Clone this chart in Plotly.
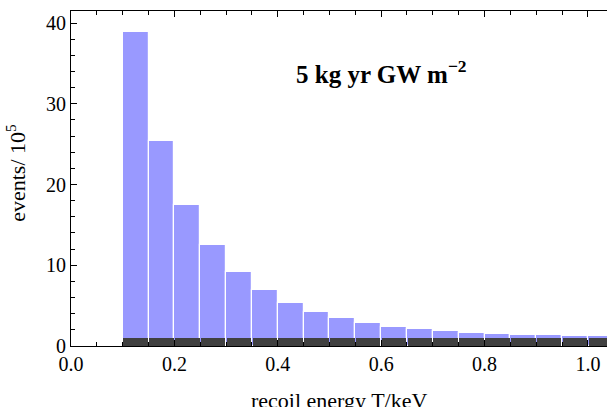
import plotly.graph_objects as go

bin_left = [0.10, 0.15, 0.20, 0.25, 0.30, 0.35, 0.40, 0.45, 0.50, 0.55,
            0.60, 0.65, 0.70, 0.75, 0.80, 0.85, 0.90, 0.95, 1.00]
total_events = [38.9, 25.4, 17.5, 12.55, 9.2, 6.98, 5.33, 4.2, 3.5, 2.89,
                2.4, 2.15, 1.9, 1.65, 1.52, 1.4, 1.38, 1.28, 1.25]
background_events = [1.03] * len(bin_left)
bin_width = 0.05

x_ticks = [0.0, 0.2, 0.4, 0.6, 0.8, 1.0]
x_ticklabels = ["0.0", "0.2", "0.4", "0.6", "0.8", "1.0"]
y_ticks = [0, 10, 20, 30, 40]

centers = [b + bin_width / 2 for b in bin_left]

fig = go.Figure()
fig.add_trace(go.Bar(x=centers, y=total_events, width=bin_width,
                     marker=dict(color="#9999FF", line=dict(color="white", width=1.2)),
                     showlegend=False))
fig.add_trace(go.Bar(x=centers, y=background_events, width=bin_width - 0.0026,
                     marker=dict(color="#404040", line=dict(width=0)),
                     showlegend=False))

fam = "Liberation Serif, Times New Roman, serif"
tick_font = dict(family=fam, size=20, color="black")
label_font = dict(family=fam, size=22, color="black")

fig.update_layout(
    width=607, height=407,
    margin=dict(l=71, r=0, t=11, b=61),
    paper_bgcolor="white", plot_bgcolor="white",
    barmode="overlay", bargap=0,
    font=tick_font,
    xaxis=dict(range=[0, 1.037], tickvals=x_ticks, ticktext=x_ticklabels,
               ticks="inside", ticklen=6, tickwidth=1, tickcolor="black",
               showline=True, linecolor="black", linewidth=1.2, mirror="ticks",
               showgrid=False, zeroline=False, tickfont=tick_font,
               minor=dict(dtick=0.05, tick0=0, ticks="inside", ticklen=4,
                          tickcolor="black", showgrid=False)),
    yaxis=dict(range=[0, 41.5], tickvals=y_ticks,
               ticks="inside", ticklen=6, tickwidth=1, tickcolor="black",
               showline=True, linecolor="black", linewidth=1.2, mirror=False,
               showgrid=False, zeroline=False, tickfont=tick_font,
               minor=dict(dtick=2, tick0=0, ticks="inside", ticklen=4,
                          tickcolor="black", showgrid=False)),
    annotations=[
        dict(text="<b>5 kg yr GW m<sup>−2</sup></b>", x=0.600, y=34.0,
             xref="x", yref="y", showarrow=False,
             font=dict(family=fam, size=25, color="black")),
        dict(text="events/ 10<sup>5</sup>", x=-0.102, y=0.518, xref="paper", yref="paper",
             textangle=-90, showarrow=False, xanchor="center", yanchor="middle",
             font=label_font),
        dict(text="recoil energy T/keV", x=0.5, y=-0.163, xref="paper", yref="paper",
             showarrow=False, xanchor="center", yanchor="middle", font=label_font),
    ],
)

fig.write_html("out.html", config={"displayModeBar": False},
               post_script="document.body.style.margin='0';")
